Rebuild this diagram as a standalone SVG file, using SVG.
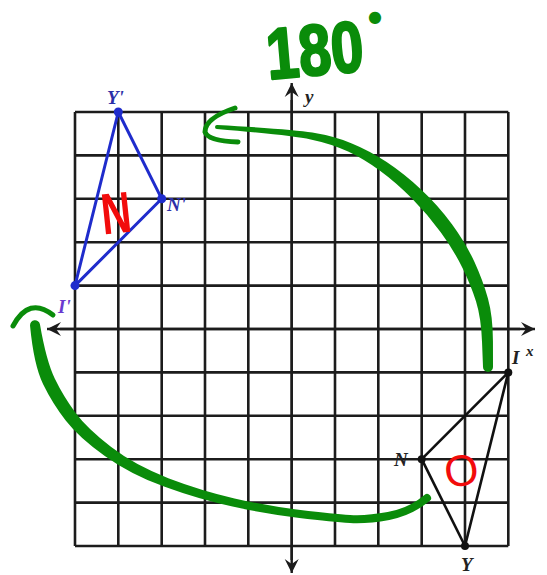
<svg xmlns="http://www.w3.org/2000/svg" width="547" height="575" viewBox="0 0 547 575">
<defs>
<style>
.grid{stroke:#1c1c1c;stroke-width:2.6;fill:none}
.axis{stroke:#1c1c1c;stroke-width:2.4;fill:none}
.lbl{font-family:"Liberation Serif",serif;font-style:italic;font-weight:bold;font-size:19px}
.blue{fill:#2b2fa8}
.dark{fill:#222}
.green{fill:#0a8c0a}
.gstroke{stroke:#0a8c0a;fill:none;stroke-linecap:round;stroke-linejoin:round}
.red{fill:#f20c0c;font-family:"Liberation Sans",sans-serif}
</style>
<marker id="ah" viewBox="-14 -8 16 16" markerWidth="16" markerHeight="16" refX="0" refY="0" orient="auto" markerUnits="userSpaceOnUse">
<path d="M0,0 L-14,-7 L-9,0 L-14,7 Z" fill="#1c1c1c"/>
</marker>
</defs>
<rect width="547" height="575" fill="#fff"/>
<g id="grid">
<path class="grid" d="M75,112V546M118.3,112V546M161.7,112V546M205,112V546M248.3,112V546M335,112V546M378.3,112V546M421.7,112V546M465,112V546M508.3,112V546M75,112H508.3M75,155.4H508.3M75,198.8H508.3M75,242.2H508.3M75,285.6H508.3M75,372.4H508.3M75,415.8H508.3M75,459.2H508.3M75,502.6H508.3M75,546H508.3"/>
</g>
<g id="axes">
<line class="axis" x1="60" y1="329" x2="535" y2="329" marker-end="url(#ah)"/>
<line class="axis" x1="520" y1="329" x2="47" y2="329" marker-end="url(#ah)"/>
<line class="axis" x1="291.7" y1="560" x2="291.7" y2="83" marker-end="url(#ah)"/>
<line class="axis" x1="291.7" y1="100" x2="291.7" y2="573" marker-end="url(#ah)"/>
<text class="lbl dark" x="305" y="103" font-size="20">y</text>
<text class="lbl dark" x="526" y="356" style="font-size:15px">x</text>
</g>
<g id="triangle-INY">
<path d="M508.3,372.4 L421.7,459.2 L465,546 Z" fill="none" stroke="#111" stroke-width="2.6" stroke-linejoin="round"/>
<circle cx="508.3" cy="372.4" r="4" fill="#111"/>
<circle cx="421.7" cy="459.2" r="4" fill="#111"/>
<circle cx="465" cy="546" r="4" fill="#111"/>
<text class="lbl dark" x="512" y="364">I</text>
<text class="lbl dark" x="394" y="466">N</text>
<text class="lbl dark" x="461" y="571">Y</text>
</g>
<g id="triangle-image">
<path d="M118.3,112 L161.7,198.8 L75,285.6 Z" fill="none" stroke="#1f2ccc" stroke-width="3" stroke-linejoin="round"/>
<circle cx="118.3" cy="112" r="4.5" fill="#1f2ccc"/>
<circle cx="161.7" cy="198.8" r="4.5" fill="#1f2ccc"/>
<circle cx="75" cy="285.6" r="4.5" fill="#1f2ccc"/>
<text class="lbl blue" x="107" y="104">Y'</text>
<text class="lbl blue" x="167" y="211">N'</text>
<text class="lbl" fill="#6a3ad0" x="58" y="313">I'</text>
</g>
<g id="connectors">
<path class="green" d="M217.1,125 Q290.45,129 312.3,132.6 Q334.2,136.2 351.85,143.4 Q369.5,150.6 386.65,162 Q403.8,173.4 421.05,189.4 Q438.3,205.4 452.15,224.4 Q466,243.4 474.5,262.05 Q483,280.7 487.95,298.45 Q492.9,316.2 492.95,341.6 L493,367 A5,5 0 0 1 483,367 L482.05,342.4 Q481.1,317.8 476.05,301.55 Q471,285.3 462.5,267.95 Q454,250.6 440.9,232.6 Q427.8,214.6 412,198.6 Q396.2,182.6 380.35,171 Q364.5,159.4 348.15,151.6 Q331.8,143.8 310.7,139.4 Q289.55,135 216.9,129 A2,2 0 0 1 217.1,125 Z"/>
<path class="gstroke" stroke-width="5" d="M235,108 Q205,118 205,132 Q208,141 238,142"/>
<path class="green" d="M39.95,324.35 Q46.24,361.1 54.87,378.85 Q63.5,396.6 75.3,412.6 Q87.1,428.6 111.2,447.1 Q135.35,465.6 168.3,478.15 Q201.3,490.7 234.5,498.4 Q267.7,506.1 300.55,510.05 Q333.4,514 350.05,515 Q366.7,516 387.65,512.1 Q408.6,508.2 424.4,494.9 A4,4 0 0 1 429.6,501.1 Q411.4,515.8 389.35,519.9 Q367.3,524 349.95,523 Q332.6,522 299.45,517.95 Q266.3,513.9 232.5,506.6 Q198.7,499.3 164.7,486.85 Q130.65,474.4 104.8,455.9 Q78.9,437.4 65.7,420.4 Q52.5,403.4 43.13,384.15 Q33.76,364.9 30.05,325.65 A5,5 0 0 1 39.95,324.35 Z"/>
<path class="gstroke" stroke-width="5" d="M13,326 Q29,296 53,315"/>
</g>
<g id="annotations">
<text class="green" x="266" y="75" font-family="Liberation Sans, sans-serif" font-weight="bold" font-size="72" textLength="97" lengthAdjust="spacingAndGlyphs" stroke="#0a8c0a" stroke-width="2.5" stroke-linejoin="round" transform="rotate(-5 315 48)">180</text>
<text class="green" x="368" y="22" font-family="DejaVu Sans, sans-serif" font-size="16">●</text>
<text class="red" x="101" y="233" font-size="58" font-weight="bold" textLength="30" lengthAdjust="spacingAndGlyphs" transform="rotate(-6 116 212)">N</text>
<text class="red" x="444" y="486" font-size="44" transform="rotate(-8 460 470)">O</text>
</g>
</svg>
